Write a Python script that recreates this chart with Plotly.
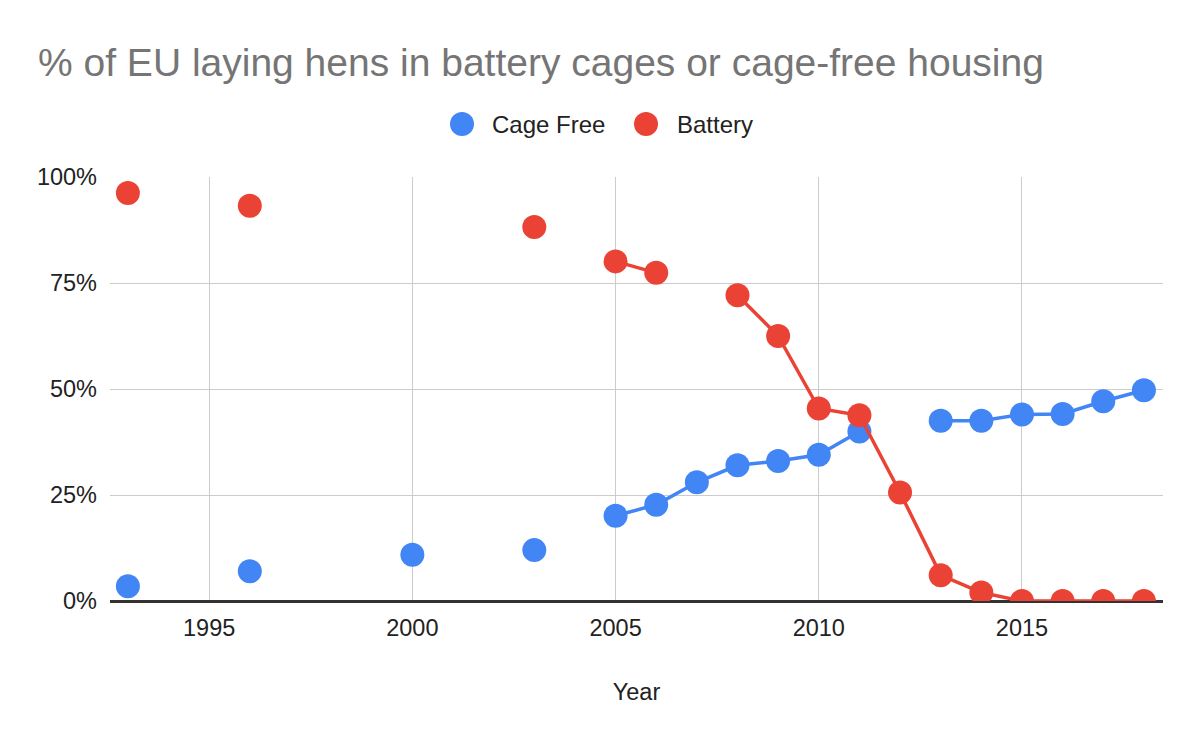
import plotly.graph_objects as go

years = list(range(1993, 2019))

# values in percent; None = no data for that year (gap in line)
cage_free = [3.5, None, None, 7.0, None, None, None, 10.9, None, None, 12.0, None,
             20.1, 22.7, 28.0, 32.0, 33.0, 34.5, 40.0, None,
             42.5, 42.5, 44.0, 44.1, 47.1, 49.7]
battery = [96.2, None, None, 93.2, None, None, None, None, None, None, 88.2, None,
           80.1, 77.4, None, 72.1, 62.5, 45.4, 43.8, 25.6,
           6.1, 2.0, 0.0, 0.0, 0.0, 0.0]

series_names = ["Cage Free", "Battery"]
colors = ["#4285F4", "#EA4335"]
y_ticks = [0, 25, 50, 75, 100]
x_ticks = [1995, 2000, 2005, 2010, 2015]

FONT = "Arial, 'Liberation Sans', sans-serif"
TXT = "#222222"

# page body has an 8px margin; figure sized so it fits the 1200x742 window
W, H = 1192, 734
L, R, T, B = 102, 37, 169, 141
PW, PH = W - L - R, H - T - B

fig = go.Figure()
for name, vals, col in zip(series_names, [cage_free, battery], colors):
    fig.add_trace(go.Scatter(
        x=years, y=vals, name=name, mode="lines+markers",
        connectgaps=False,
        line=dict(color=col, width=3.5),
        marker=dict(color=col, size=24),
        cliponaxis=True,
        showlegend=False,
    ))

# custom legend (large round swatches like the reference)
def px_x(px):  # figure pixel -> paper x
    return (px - L) / PW

def px_y(py):  # figure pixel (from top) -> paper y
    return (H - B - py) / PH

legend_y = 116
legend_items = [(454, 482), (638, 667)]  # (circle centre x, text left x) in figure px
for (cx, tx), name, col in zip(legend_items, series_names, colors):
    fig.add_shape(type="circle", xref="paper", yref="paper",
                  xsizemode="pixel", ysizemode="pixel",
                  xanchor=px_x(cx), yanchor=px_y(legend_y),
                  x0=-12, x1=12, y0=-12, y1=12,
                  fillcolor=col, line=dict(width=0))
    fig.add_annotation(text=name, xref="paper", yref="paper",
                       x=px_x(tx), y=px_y(legend_y), xanchor="left", yanchor="middle",
                       showarrow=False, font=dict(family=FONT, size=24, color=TXT))

fig.update_layout(
    width=W, height=H,
    margin=dict(l=L, r=R, t=T, b=B, pad=0),
    paper_bgcolor="white", plot_bgcolor="white",
    font=dict(family=FONT, size=23, color=TXT),
    showlegend=False,
    title=dict(
        text="% of EU laying hens in battery cages or cage-free housing",
        font=dict(family=FONT, size=39, color="#757575"),
        xref="container", yref="container",
        x=30 / W, xanchor="left",
        y=1 - 54 / H, yanchor="middle",
    ),
    xaxis=dict(
        range=[1992.56, 2018.47],
        tickvals=x_ticks,
        ticktext=[str(v) for v in x_ticks],
        showgrid=True, gridcolor="#cccccc", gridwidth=1.3,
        zeroline=False, showline=False,
        ticks="", ticklabelstandoff=10,
        tickfont=dict(family=FONT, size=23.5, color=TXT),
        title=dict(text="Year", font=dict(family=FONT, size=23.5, color=TXT), standoff=44),
    ),
    yaxis=dict(
        range=[0, 100],
        tickvals=y_ticks,
        ticktext=[f"{v}%" for v in y_ticks],
        showgrid=True, gridcolor="#cccccc", gridwidth=1.3,
        zeroline=True, zerolinecolor="#333333", zerolinewidth=2.5,
        showline=False, ticks="", ticklabelstandoff=12,
        tickfont=dict(family=FONT, size=23.5, color=TXT),
    ),
)

fig.write_html("out.html")
